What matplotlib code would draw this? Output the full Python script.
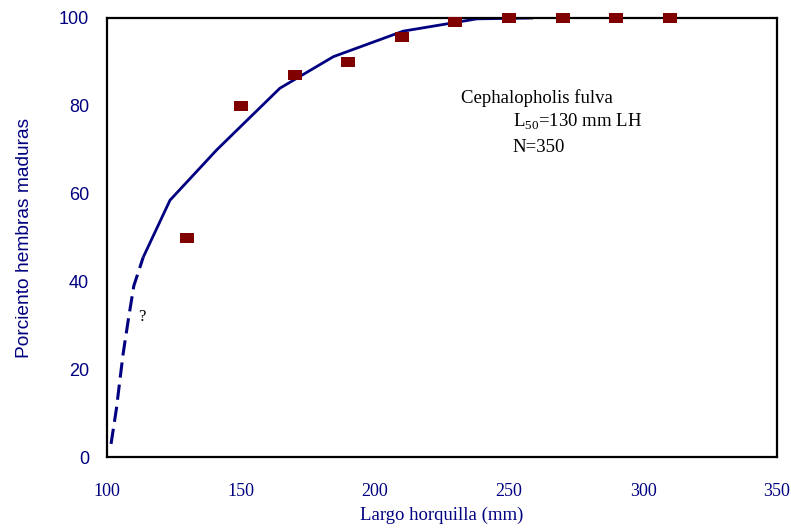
import numpy as np
import matplotlib
matplotlib.use("Agg")
import matplotlib.pyplot as plt

plt.rcParams['mathtext.fontset'] = 'custom'
plt.rcParams['mathtext.rm'] = 'Liberation Serif'

# observed proportion of mature females
largo = [130, 150, 170, 190, 210, 230, 250, 270, 290, 310]
porc_maduras = [50, 80, 87, 90, 95.7, 99, 100, 100, 100, 100]

# fitted curve (solid part)
ajuste_x = [113.5, 123.5, 141, 164.5, 184.5, 210.5, 238, 259]
ajuste_y = [45.5, 58.5, 70, 84, 91.2, 97, 99.8, 100]

# extrapolated part (dashed)
extrap_x = [101.5, 103.5, 106, 108, 110, 113.5]
extrap_y = [3, 11, 23.5, 31.5, 39, 45.5]

navy = '#000080'
rojo = '#800000'

fig = plt.figure(figsize=(7.91, 5.29), dpi=100)
ax = fig.add_axes([0.1353, 0.136, 0.847, 0.830])

ax.plot(ajuste_x, ajuste_y, color=navy, lw=2.0, solid_capstyle='butt')
ax.plot(extrap_x, extrap_y, color=navy, lw=2.2, dashes=(5, 2.3))

rect = [(-1.45, -1), (1.45, -1), (1.45, 1), (-1.45, 1), (-1.45, -1)]
ax.plot(largo, porc_maduras, ls='none', marker=rect, markersize=9.5,
        color=rojo, markeredgewidth=0, clip_on=False, zorder=3)

ax.set_xlim(100, 350)
ax.set_ylim(0, 100)
ax.set_xticks([100, 150, 200, 250, 300, 350])
ax.set_yticks([0, 20, 40, 60, 80, 100])
ax.tick_params(length=0)
ax.tick_params(axis='x', pad=18.5)
ax.tick_params(axis='y', pad=13)
for lab in ax.get_xticklabels():
    lab.set_fontfamily('Liberation Serif')
    lab.set_fontsize(13)
    lab.set_color(navy)
for lab in ax.get_yticklabels():
    lab.set_fontfamily('Liberation Sans')
    lab.set_fontsize(13)
    lab.set_color(navy)
for s in ax.spines.values():
    s.set_linewidth(1.6)

ax.set_xlabel('Largo horquilla (mm)', family='Liberation Serif', fontsize=13.5,
              color=navy, labelpad=5)
ax.set_ylabel('Porciento hembras maduras', family='Liberation Sans', fontsize=13.8,
              color=navy, labelpad=18.5)

ax.text(232, 80.7, 'Cephalopholis fulva', family='Liberation Serif', fontsize=13.5,
        ha='left', va='baseline')
ax.text(251.4, 75.2, r'L$_{\mathrm{50}}$=130 mm LH', family='Liberation Serif',
        fontsize=13.5, ha='left', va='baseline')
ax.text(251.4, 69.5, 'N=350', family='Liberation Serif', fontsize=13.5,
        ha='left', va='baseline')
ax.text(111.5, 32, '?', family='Liberation Serif', fontsize=12, ha='left',
        va='center')

fig.savefig('out.png', dpi=100)
